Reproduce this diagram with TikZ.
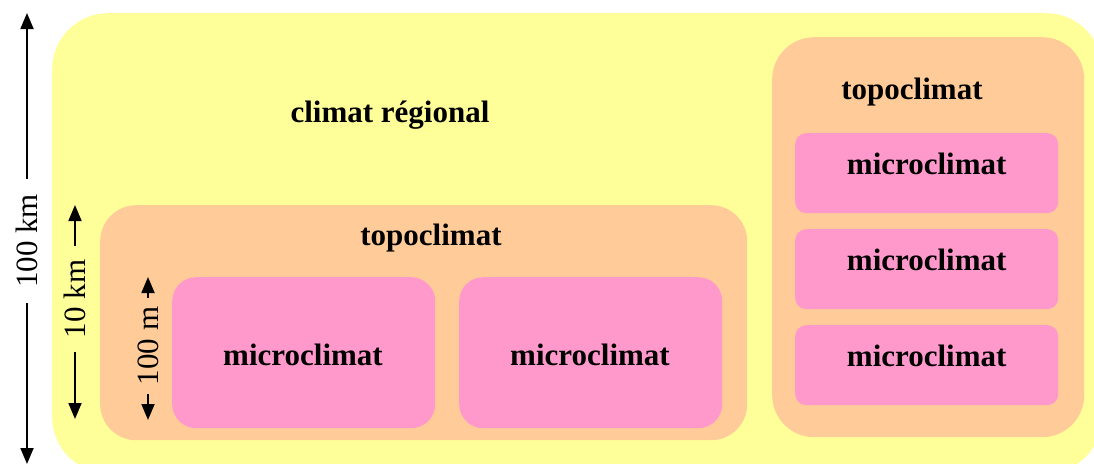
\documentclass[tikz,border=0pt]{standalone}
\usepackage{fontspec}
\setmainfont{Liberation Serif}
\usetikzlibrary{arrows.meta}

\definecolor{regionyellow}{HTML}{FFFF99}
\definecolor{topoorange}{HTML}{FFCC99}
\definecolor{micropink}{HTML}{FF99CC}

\begin{document}
\begin{tikzpicture} [ x=1pt, y=-1pt,
		      every node/.style={font=\fontsize{31}{37}\selectfont\bfseries},
		      regionbox/.style={fill=regionyellow, rounded corners=56pt, inner sep=0pt, anchor=north west},
		      topobox/.style={fill=topoorange, rounded corners=#1, inner sep=0pt, anchor=north west},
		      microbox/.style={fill=micropink, rounded corners=#1, inner sep=0pt, anchor=north west,
		                       minimum width=263pt},
		      scalelabel/.style={rotate=90, inner ysep=0pt, font=\fontsize{31}{37}\selectfont},
		      scalearrow/.style={-{Triangle[width=13pt,length=16pt]}, line width=1.8pt}
		    ]

  \path[use as bounding box, clip] (0,0) rectangle (1094,463);

  % fond : climat regional
  \node[regionbox, minimum width=1050pt, minimum height=460pt] (region) at (52,13) {};
  \node (tregion) at (390,115) {climat r\'egional};

  % topoclimat de droite
  \node[topobox=42pt, minimum width=312pt, minimum height=400pt] (topo2) at (772,37) {};
  \node (ttopo2) at (912,92) {topoclimat};
  \foreach \y/\n in {133/1, 229/2, 325/3} {
    \node[microbox=11pt, minimum height=80pt] (m2\n) at (795,\y) {};
    \node (tm2\n) at ([yshift=9pt]m2\n.center) {microclimat};
  }

  % topoclimat de gauche
  \node[topobox=36pt, minimum width=647pt, minimum height=235pt] (topo1) at (100,205) {};
  \node (ttopo1) at (431,238) {topoclimat};
  \node[microbox=24pt, minimum height=151pt] (m11) at (172,277) {};
  \node[microbox=24pt, minimum height=151pt] (m12) at (459,277) {};
  \node (tm11) at (303,355) {microclimat};
  \node (tm12) at (590,355) {microclimat};

  % echelles
  \coordinate (a100kmtop) at (27,13);
  \coordinate (a100kmbot) at (27,464);
  \node[scalelabel, inner xsep=15pt] (l100km) at (27,241) {100 km};
  \draw[scalearrow] (l100km) -- (a100kmtop);
  \draw[scalearrow] (l100km) -- (a100kmbot);

  \coordinate (a10kmtop) at (75,205);
  \coordinate (a10kmbot) at (75,419);
  \node[scalelabel, inner xsep=14pt] (l10km) at (75,299) {10 km};
  \draw[scalearrow] (l10km) -- (a10kmtop);
  \draw[scalearrow] (l10km) -- (a10kmbot);

  \coordinate (a100mtop) at (148,277);
  \coordinate (a100mbot) at (148,420);
  \node[scalelabel, inner xsep=9pt] (l100m) at (148,346) {100 m};
  \draw[scalearrow] (l100m) -- (a100mtop);
  \draw[scalearrow] (l100m) -- (a100mbot);
\end{tikzpicture}
\end{document}
